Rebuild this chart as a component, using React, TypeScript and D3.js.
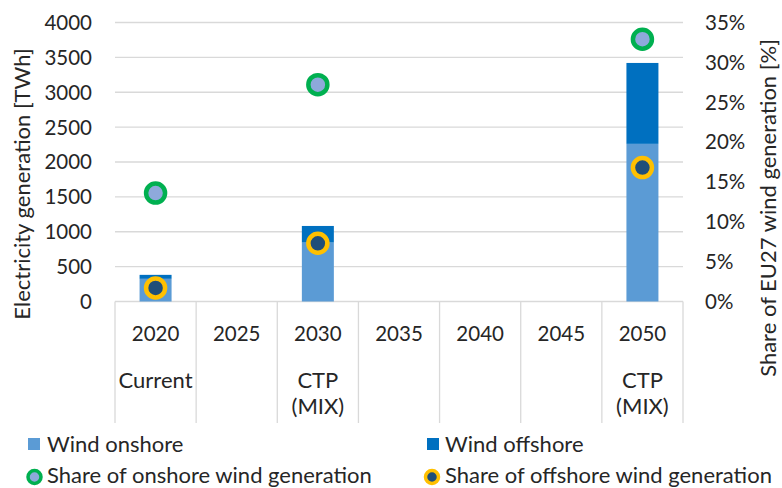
import React from 'react';
import * as d3 from 'd3';

const categories = ['2020', '2025', '2030', '2035', '2040', '2045', '2050'];
const subLabels: string[][] = [['Current'], [], ['CTP', '(MIX)'], [], [], [], ['CTP', '(MIX)']];
const onshore: (number | null)[] = [325, null, 845, null, null, null, 2260];
const offshore: (number | null)[] = [57, null, 238, null, null, null, 1160];
const onshoreShare: (number | null)[] = [13.6, null, 27.2, null, null, null, 32.9];
const offshoreShare: (number | null)[] = [1.7, null, 7.3, null, null, null, 16.8];
const leftTicks = [0, 500, 1000, 1500, 2000, 2500, 3000, 3500, 4000];
const rightTicks = [0, 5, 10, 15, 20, 25, 30, 35];

const W = 782;
const H = 488;
const FONT = 'Lato, "Open Sans", sans-serif';
const TXT = '#262626';
const GRID = '#D9D9D9';
const C_ON = '#5B9BD5';
const C_OFF = '#0070C0';
const NUM = 20.5;
const WORD = 22;

export default function App() {
  const x = d3.scaleBand<string>().domain(categories).range([115, 683]).padding(0);
  const yL = d3.scaleLinear().domain([0, 4000]).range([301.5, 22.5]);
  const yR = d3.scaleLinear().domain([0, 35]).range([301.5, 22.5]);
  const bw = 32;
  const bottomY = 423;

  return (
    <svg width={W} height={H} style={{ position: 'absolute', left: 0, top: 0, background: '#fff' }} fontFamily={FONT}>
      {leftTicks.map((t) => (
        <line key={'g' + t} x1={115} x2={683} y1={yL(t)} y2={yL(t)} stroke={GRID} strokeWidth={1.3} />
      ))}
      {categories.map((c) => (
        <line key={'s' + c} x1={x(c)!} x2={x(c)!} y1={yL(0)} y2={bottomY} stroke={GRID} strokeWidth={1.3} />
      ))}
      <line x1={683} x2={683} y1={yL(0)} y2={bottomY} stroke={GRID} strokeWidth={1.3} />
      {categories.map((c, i) => {
        const on = onshore[i];
        const off = offshore[i];
        if (on == null) return null;
        const cx = x(c)! + x.bandwidth() / 2;
        return (
          <g key={'b' + c}>
            <rect x={cx - bw / 2} y={yL(on)} width={bw} height={yL(0) - yL(on)} fill={C_ON} />
            {off != null && (
              <rect x={cx - bw / 2} y={yL(on + off)} width={bw} height={yL(on) - yL(on + off)} fill={C_OFF} />
            )}
          </g>
        );
      })}
      {categories.map((c, i) => {
        const cx = x(c)! + x.bandwidth() / 2;
        const a = onshoreShare[i];
        const b = offshoreShare[i];
        return (
          <g key={'m' + c}>
            {a != null && <circle cx={cx} cy={yR(a)} r={9.5} fill="#8EA9DB" stroke="#00B050" strokeWidth={4.5} />}
            {b != null && <circle cx={cx} cy={yR(b)} r={9.5} fill="#1F4E79" stroke="#FFC000" strokeWidth={4.5} />}
          </g>
        );
      })}
      {leftTicks.map((t) => (
        <text key={'l' + t} x={92} y={yL(t)} dy="0.36em" textAnchor="end" fontSize={NUM} fill={TXT}>
          {t}
        </text>
      ))}
      {rightTicks.map((t) => (
        <text key={'r' + t} x={705} y={yR(t)} dy="0.36em" textAnchor="start" fontSize={NUM} fill={TXT}>
          {t + '%'}
        </text>
      ))}
      {categories.map((c, i) => {
        const cx = x(c)! + x.bandwidth() / 2;
        return (
          <g key={'c' + c}>
            <text x={cx} y={341} textAnchor="middle" fontSize={NUM} fill={TXT}>
              {c}
            </text>
            {subLabels[i].map((s, j) => (
              <text key={s} x={cx} y={388 + j * 26} textAnchor="middle" fontSize={WORD} fill={TXT}>
                {s}
              </text>
            ))}
          </g>
        );
      })}
      <text transform="translate(30,184) rotate(-90)" textAnchor="middle" fontSize={WORD} fill={TXT}>
        Electricity generation [TWh]
      </text>
      <text transform="translate(776,208) rotate(-90)" textAnchor="middle" fontSize={WORD} fill={TXT}>
        Share of EU27 wind generation [%]
      </text>
      <rect x={28} y={438} width={12} height={12} fill={C_ON} />
      <text x={47} y={452} fontSize={WORD} fill={TXT}>Wind onshore</text>
      <rect x={427} y={438} width={12} height={12} fill={C_OFF} />
      <text x={445} y={452} fontSize={WORD} fill={TXT}>Wind offshore</text>
      <circle cx={34.5} cy={477} r={6.5} fill="#8EA9DB" stroke="#00B050" strokeWidth={3.5} />
      <text x={47} y={482.5} fontSize={WORD} fill={TXT}>Share of onshore wind generation</text>
      <circle cx={432} cy={477} r={6.5} fill="#1F4E79" stroke="#FFC000" strokeWidth={3.5} />
      <text x={445} y={482.5} fontSize={WORD} fill={TXT}>Share of offshore wind generation</text>
    </svg>
  );
}
